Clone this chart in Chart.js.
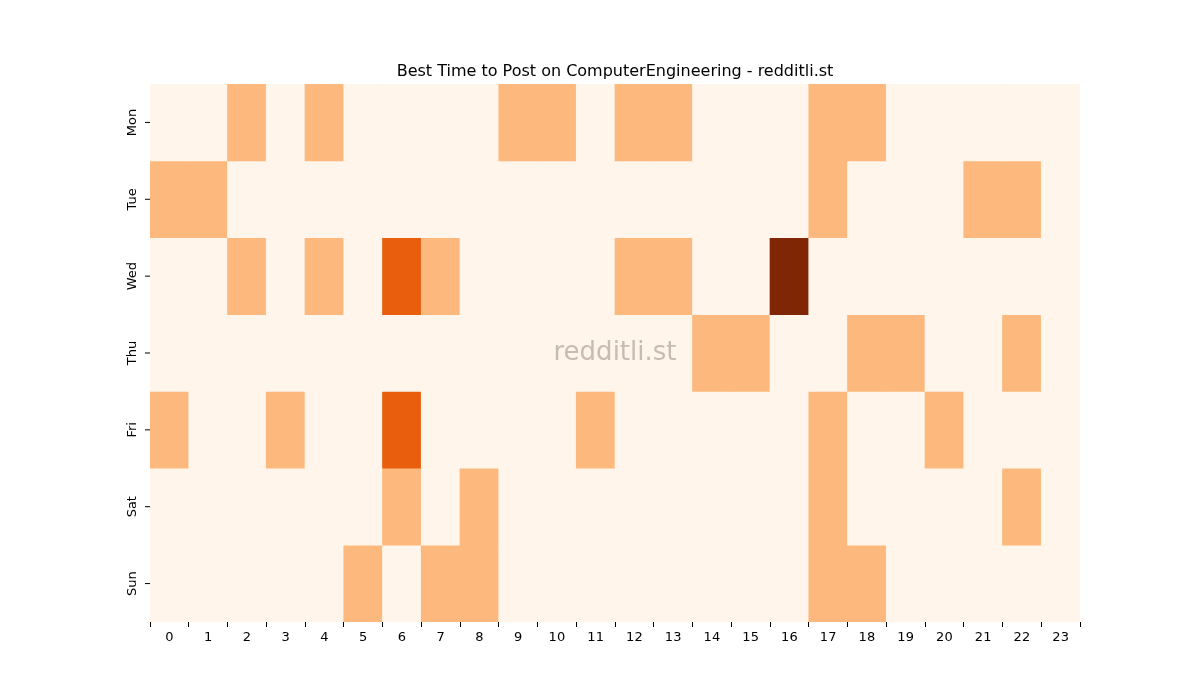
<!DOCTYPE html>
<html>
<head>
<meta charset="utf-8">
<script src="https://cdn.jsdelivr.net/npm/chart.js@4"></script>
<style>
  body { margin: 0; background: #fff; }
  #wrap { width: 1200px; height: 700px; }
</style>
</head>
<body>
<div id="wrap"><canvas id="c"></canvas></div>
<script>
const hours = ['0','1','2','3','4','5','6','7','8','9','10','11','12','13','14','15','16','17','18','19','20','21','22','23'];
const days = ['Mon', 'Tue', 'Wed', 'Thu', 'Fri', 'Sat', 'Sun'];
// activity level per hour, one row per day
const mon = [0,0,1,0,1,0,0,0,0,1,1,0,1,1,0,0,0,1,1,0,0,0,0,0];
const tue = [1,1,0,0,0,0,0,0,0,0,0,0,0,0,0,0,0,1,0,0,0,1,1,0];
const wed = [0,0,1,0,1,0,2,1,0,0,0,0,1,1,0,0,3,0,0,0,0,0,0,0];
const thu = [0,0,0,0,0,0,0,0,0,0,0,0,0,0,1,1,0,0,1,1,0,0,1,0];
const fri = [1,0,0,1,0,0,2,0,0,0,0,1,0,0,0,0,0,1,0,0,1,0,0,0];
const sat = [0,0,0,0,0,0,1,0,1,0,0,0,0,0,0,0,0,1,0,0,0,0,1,0];
const sun = [0,0,0,0,0,1,0,1,1,0,0,0,0,0,0,0,0,1,1,0,0,0,0,0];
const rows = [mon, tue, wed, thu, fri, sat, sun];
const palette = ['#fff5eb', '#fdb97d', '#e95e0d', '#7f2704'];

const datasets = rows.map((row, i) => ({
    label: days[i],
    data: row.map(() => [i, i + 1]),
    backgroundColor: row.map(v => palette[v]),
    borderWidth: 0,
    barPercentage: 1,
    categoryPercentage: 1,
    grouped: false
}));

const extras = {
    id: 'extras',
    afterDraw(chart) {
        const ctx = chart.ctx;
        const a = chart.chartArea;
        const y = chart.scales.y;
        ctx.save();
        ctx.fillStyle = '#000';
        ctx.font = '16px "DejaVu Sans"';
        ctx.textAlign = 'center';
        ctx.textBaseline = 'alphabetic';
        ctx.fillText('Best Time to Post on ComputerEngineering - redditli.st', (a.left + a.right) / 2, 76);
        ctx.font = '13px "DejaVu Sans"';
        ctx.strokeStyle = '#000';
        ctx.lineWidth = 1;
        days.forEach((d, i) => {
            const cy = y.getPixelForValue(i + 0.5);
            ctx.beginPath();
            ctx.moveTo(a.left - 5, cy);
            ctx.lineTo(a.left, cy);
            ctx.stroke();
            ctx.save();
            ctx.translate(a.left - 14, cy);
            ctx.rotate(-Math.PI / 2);
            ctx.textBaseline = 'alphabetic';
            ctx.fillText(d, 0, 0);
            ctx.restore();
        });
        ctx.font = '26px "DejaVu Sans"';
        ctx.fillStyle = 'rgba(150,130,120,0.5)';
        ctx.textBaseline = 'middle';
        ctx.fillText('redditli.st', (a.left + a.right) / 2, (a.top + a.bottom) / 2);
        ctx.restore();
    }
};

new Chart(document.getElementById('c'), {
    type: 'bar',
    data: { labels: hours, datasets: datasets },
    options: {
        responsive: true,
        maintainAspectRatio: false,
        animation: false,
        layout: { padding: { left: 120, right: 120, top: 84, bottom: 38 } },
        plugins: { legend: { display: false }, tooltip: { enabled: false } },
        scales: {
            x: {
                grid: { display: true, drawOnChartArea: false, drawTicks: true, tickLength: 5, color: '#000' },
                border: { display: false },
                ticks: { color: '#000', font: { size: 13, family: 'DejaVu Sans' }, maxRotation: 0, autoSkip: false },
                afterFit(s) { s.height = 40; }
            },
            y: {
                min: 0, max: 7, reverse: true,
                grid: { display: false },
                border: { display: false },
                ticks: { display: false },
                afterFit(s) { s.width = 30; }
            }
        }
    },
    plugins: [extras]
});
</script>
</body>
</html>
